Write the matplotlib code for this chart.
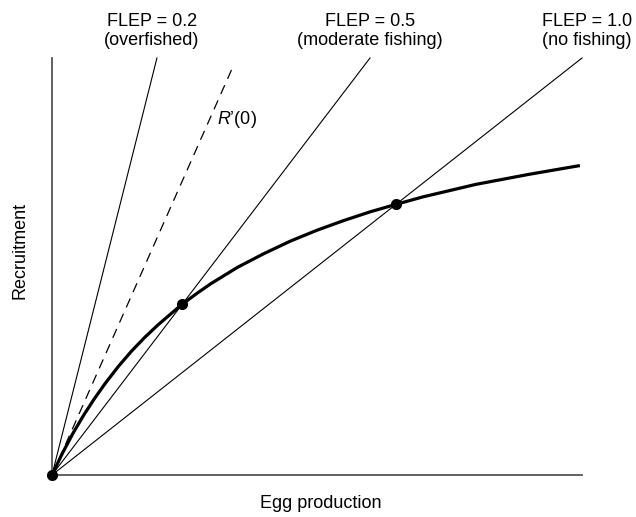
import matplotlib
matplotlib.use("Agg")
import matplotlib.pyplot as plt

plt.rcParams['font.family'] = ['Liberation Sans', 'DejaVu Sans']
plt.rcParams['mathtext.fontset'] = 'custom'
plt.rcParams['mathtext.it'] = 'Liberation Sans:italic'
plt.rcParams['mathtext.rm'] = 'Liberation Sans'
plt.rcParams['lines.scale_dashes'] = False

# Stock-recruitment curve (egg production vs recruitment)
egg = [0.0, 0.02, 0.04, 0.06, 0.08, 0.10, 0.125, 0.15, 0.175, 0.20, 0.245,
       0.275, 0.30, 0.35, 0.40, 0.45, 0.50, 0.55, 0.60, 0.649, 0.70, 0.75,
       0.80, 0.85, 0.90, 0.95, 0.996]
recruit = [0.0, 0.053, 0.101, 0.144, 0.183, 0.219, 0.260, 0.297, 0.330, 0.360, 0.409,
           0.437, 0.459, 0.498, 0.531, 0.561, 0.587, 0.610, 0.631, 0.649, 0.667, 0.682,
           0.697, 0.709, 0.721, 0.732, 0.742]

# Replacement lines through origin: end points
flep_labels = ["FLEP = 0.2\n(overfished)", "FLEP = 0.5\n(moderate fishing)", "FLEP = 1.0\n(no fishing)"]
flep_end_x = [0.198, 0.600, 1.000]
flep_end_y = [1.0, 1.0, 1.0]

# Slope at origin R'(0)
r0_end = (0.342, 0.981)

# Equilibrium points
eq_x = [0.0, 0.245, 0.649]
eq_y = [0.0, 0.409, 0.649]

fig = plt.figure(figsize=(6.36, 5.17), dpi=100)
ax = fig.add_axes([52/636, 42/517, 530/636, 417/517])
ax.set_xlim(0, 1)
ax.set_ylim(0, 1)

for ex, ey in zip(flep_end_x, flep_end_y):
    ax.plot([0, ex], [0, ey], color='black', lw=0.8, clip_on=False)

ax.plot([0, r0_end[0]], [0, r0_end[1]], color='black', lw=0.9, dashes=(7, 5), clip_on=False)

ax.plot(egg, recruit, color='black', lw=2.3, solid_capstyle='butt',
        solid_joinstyle='round', clip_on=False)
ax.plot(eq_x, eq_y, 'o', color='black', ms=7, clip_on=False, zorder=5)

for s in ['top', 'right']:
    ax.spines[s].set_visible(False)
for s in ['left', 'bottom']:
    ax.spines[s].set_color('#555555')
    ax.spines[s].set_linewidth(1.3)
ax.set_xticks([])
ax.set_yticks([])

# Labels (figure pixel positions)
label_pos = [(152, 31), (370, 31), (587, 31)]
for lab, (px, py) in zip(flep_labels, label_pos):
    fig.text(px/636, 1 - py/517, lab, ha='center', va='center', fontsize=13,
             linespacing=1.15)

fig.text(237/636, 1 - 119/517, "$R$\u2019(0)", ha='center', va='center', fontsize=13)

fig.text(321/636, 1 - 503/517, "Egg production", ha='center', va='center', fontsize=13)
fig.text(20/636, 1 - 250/517, "Recruitment", ha='center', va='center', fontsize=13,
         rotation=90)

fig.savefig("out.png", dpi=100)
